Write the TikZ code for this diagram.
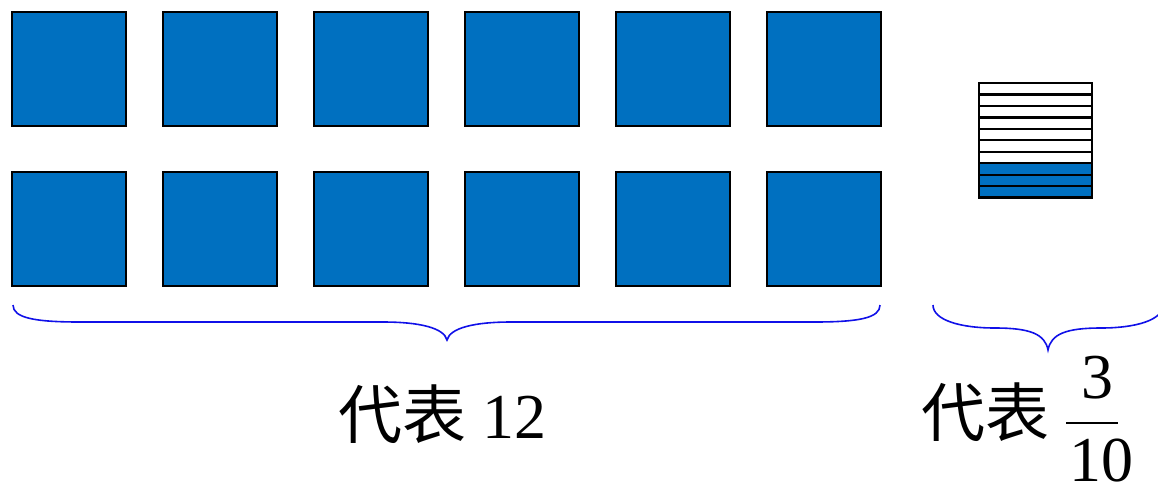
\documentclass[tikz,border=0pt]{standalone}
\usepackage{fontspec}
\setmainfont{Liberation Serif}
\newfontfamily\cjk{Noto Sans CJK SC}
\definecolor{tileblue}{HTML}{0070C0}
\definecolor{bracecol}{HTML}{1010E8}
\begin{document}
\begin{tikzpicture}[x=1pt,y=-1pt,
  tile/.style={draw=black,line width=2.4pt,fill=tileblue,minimum size=114pt,inner sep=0pt,anchor=north west},
  stripe/.style={draw=black,line width=2.2pt,minimum width=113pt,minimum height=11.4pt,inner sep=0pt,anchor=north west},
  bracepath/.style={draw=bracecol,line width=1.6pt},
  lab/.style={inner sep=0pt,font=\fontsize{64}{70}\selectfont}]
\useasboundingbox (0,0) rectangle (1158,491);
% tiles
\foreach \c [count=\i] in {11,162,313,464,615,766}{
  \node[tile] (t1\i) at (\c,11) {};
  \node[tile] (t2\i) at (\c,171) {};
}
% striped square
\foreach \k in {0,...,9}{
  \pgfmathsetmacro{\yy}{82+\k*11.45}
  \ifnum\k<7
    \node[stripe,fill=white] (st\k) at (978,\yy) {};
  \else
    \node[stripe,fill=tileblue] (st\k) at (978,\yy) {};
  \fi
}
% braces
\draw[bracepath] (13,305) .. controls (13,318) and (35,322) .. (80,322)
  -- (383,322) .. controls (420,322) and (444,328) .. (447,340)
  .. controls (450,328) and (474,322) .. (511,322)
  -- (814,322) .. controls (859,322) and (880,318) .. (880,305);
\draw[bracepath] (933,305) .. controls (933,320) and (960,328) .. (995,328)
  .. controls (1030,328) and (1045,334) .. (1048,350)
  .. controls (1051,334) and (1066,328) .. (1101,328)
  .. controls (1136,328) and (1163,320) .. (1163,305);
% labels
\node[lab,anchor=base west] (l1) at (338,438) {{\cjk 代表} 12};
\node[lab,anchor=base west] (l2) at (921,436) {\cjk 代表};
\node[lab,anchor=base] (num) at (1097,398) {3};
\node[lab,anchor=base,text depth=0pt] (den) at (1101,481) {10};
\draw[line width=2pt] (1066,423) -- (1118,423);
\end{tikzpicture}
\end{document}
